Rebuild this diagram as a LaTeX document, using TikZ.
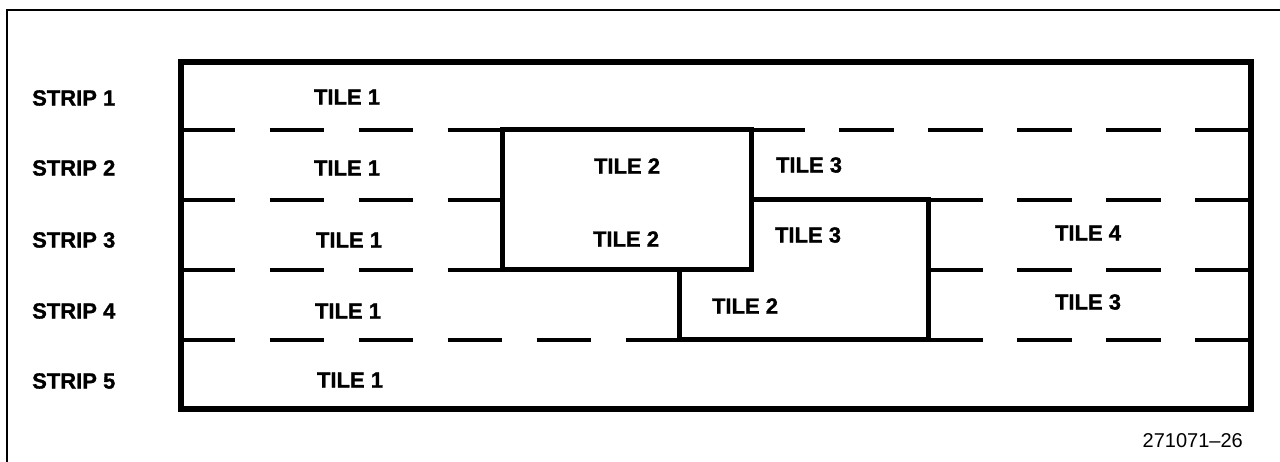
\documentclass[tikz,border=0pt]{standalone}
\usepackage{fontspec}
\setmainfont{Liberation Sans}[BoldFeatures={FakeBold=1.2}]
\begin{document}
\begin{tikzpicture}[x=1pt,y=-1pt,
  lbl/.style={font=\fontsize{22}{24}\selectfont\bfseries, inner sep=0pt},
  fig/.style={font=\fontsize{20}{22}\selectfont, inner sep=0pt},
  frameline/.style={line width=2pt},
  boxline/.style={line width=6pt, line join=miter},
  tileline/.style={line width=5pt, line join=miter},
  stripline/.style={line width=4.5pt, line cap=butt},
  leftdash/.style={stripline, dash pattern=on 54pt off 35pt},
  rightdash/.style={stripline, dash pattern=on 55pt off 34pt}]
\useasboundingbox (0,0) rectangle (1280,462);
% outer frame
\draw[frameline] (7,462) -- (7,10.5) -- (1280,10.5);
% strip boundaries (dashed), left part
\draw[leftdash] (180.5,130) -- (502,130);
\draw[leftdash] (180.5,200) -- (502,200);
\draw[leftdash] (180.5,270) -- (502,270);
\draw[leftdash] (180.5,340) -- (679,340);
% strip boundaries (dashed), right part
\draw[rightdash] (750,130) -- (1250.5,130);
\draw[rightdash] (928,200) -- (1250.5,200);
\draw[rightdash] (928,270) -- (1250.5,270);
\draw[rightdash] (928,340) -- (1250.5,340);
% tile outlines
\draw[tileline] (502,130) rectangle (751,270);
\draw[tileline] (751,200) -- (928,200) -- (928,340) -- (679,340) -- (679,270);
% main box
\draw[boxline] (180.5,62) rectangle (1250.5,409);
% strip labels
\node[lbl, anchor=west] (s1) at (32,98) {STRIP 1};
\node[lbl, anchor=west] (s2) at (32,168) {STRIP 2};
\node[lbl, anchor=west] (s3) at (32,240) {STRIP 3};
\node[lbl, anchor=west] (s4) at (32,311) {STRIP 4};
\node[lbl, anchor=west] (s5) at (32,381) {STRIP 5};
% tile labels
\node[lbl] (t11) at (347,97) {TILE 1};
\node[lbl] (t21) at (347,168) {TILE 1};
\node[lbl] (t22) at (627,166) {TILE 2};
\node[lbl] (t23) at (809,165) {TILE 3};
\node[lbl] (t31) at (349,240) {TILE 1};
\node[lbl] (t32) at (626,239) {TILE 2};
\node[lbl] (t33) at (808,235) {TILE 3};
\node[lbl] (t34) at (1088,233) {TILE 4};
\node[lbl] (t41) at (348,311) {TILE 1};
\node[lbl] (t42) at (745,306) {TILE 2};
\node[lbl] (t43) at (1088,302) {TILE 3};
\node[lbl] (t51) at (350,380) {TILE 1};
% figure number
\node[fig, anchor=east] (fignum) at (1243,441) {271071--26};
\end{tikzpicture}
\end{document}
